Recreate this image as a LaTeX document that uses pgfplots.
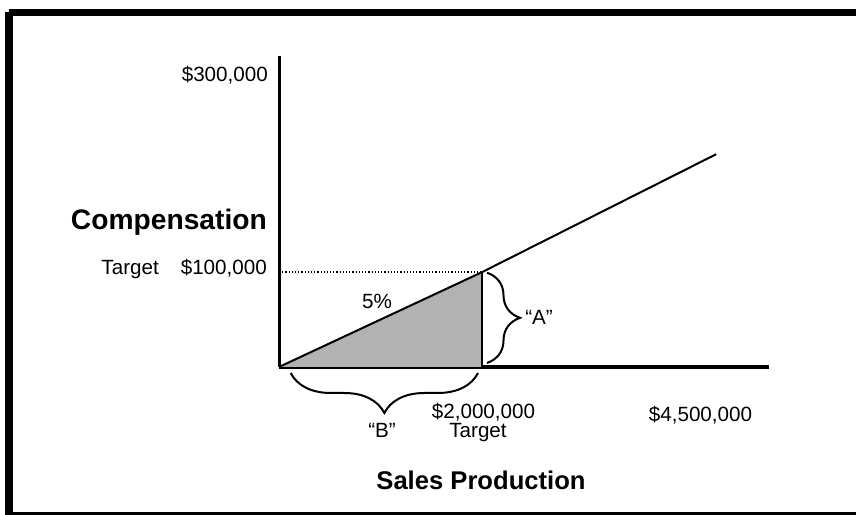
\documentclass[border=0pt]{standalone}
\usepackage{pgfplots}
\pgfplotsset{compat=1.18}
\usepackage{fontspec}
\setmainfont{Liberation Sans}
\usetikzlibrary{decorations.pathreplacing}
\begin{document}
\begin{tikzpicture}[x=1bp,y=1bp,
  reg/.style={font=\fontsize{20.7}{24}\selectfont, inner sep=0pt},
  bld/.style={font=\fontsize{28.3}{32}\selectfont\bfseries, inner sep=0pt}]
\useasboundingbox (0,0) rectangle (856,515);
\clip (0,0) rectangle (856,515);
\fill[white] (0,0) rectangle (856,515);
% frame
\draw[line width=7.5bp] (9,502.5) -- (870,502.5);
\draw[line width=8bp] (9,502.5) -- (9,-1) -- (870,-1);
\begin{axis}[
  at={(279bp,148bp)}, anchor=origin,
  scale only axis, width=490bp, height=311bp,
  xmin=0, xmax=4820000, ymin=0, ymax=327400,
  axis lines=left,
  x axis line style={-, line width=4.5bp},
  y axis line style={-, line width=3bp},
  xtick=\empty, ytick=\empty,
  clip=false,
]
\addplot[fill=gray!60, draw=none] coordinates {(0,0) (2000000,100000) (2000000,0)} -- cycle;
\addplot[black, dotted, line width=1.2bp] coordinates {(0,100000) (2000000,100000)};
\addplot[black, line width=2bp] coordinates {(2000000,0) (2000000,100000)};
\addplot[black, line width=2bp] coordinates {(0,0) (2000000,100000) (4300000,224000)};
\end{axis}
% braces
\draw[line width=2bp, decorate, decoration={brace, amplitude=33bp}] (487,242.3) -- (487,152);
\draw[line width=2bp, decorate, decoration={brace, amplitude=40bp}] (478,142) -- (290.7,142);
% labels
\node[reg, anchor=base east] at (268,433.3) {\$300,000};
\node[bld, anchor=base east] at (267,285) {Compensation};
\node[reg, anchor=base east] at (267,240) {\$100,000};
\node[reg, anchor=base east] at (159,240.7) {Target};
\node[reg, anchor=base] at (377,206.7) {5\%};
\node[reg, anchor=base] at (539,190) {“A”};
\node[reg, anchor=base] at (382,77.7) {“B”};
\node[reg, anchor=base] at (483.5,96.7) {\$2,000,000};
\node[reg, anchor=base] at (478,77.3) {Target};
\node[reg, anchor=base] at (700.5,93.3) {\$4,500,000};
\node[font=\fontsize{25.7}{30}\selectfont\bfseries, inner sep=0pt, anchor=base] at (481,25) {Sales Production};
\end{tikzpicture}
\end{document}
